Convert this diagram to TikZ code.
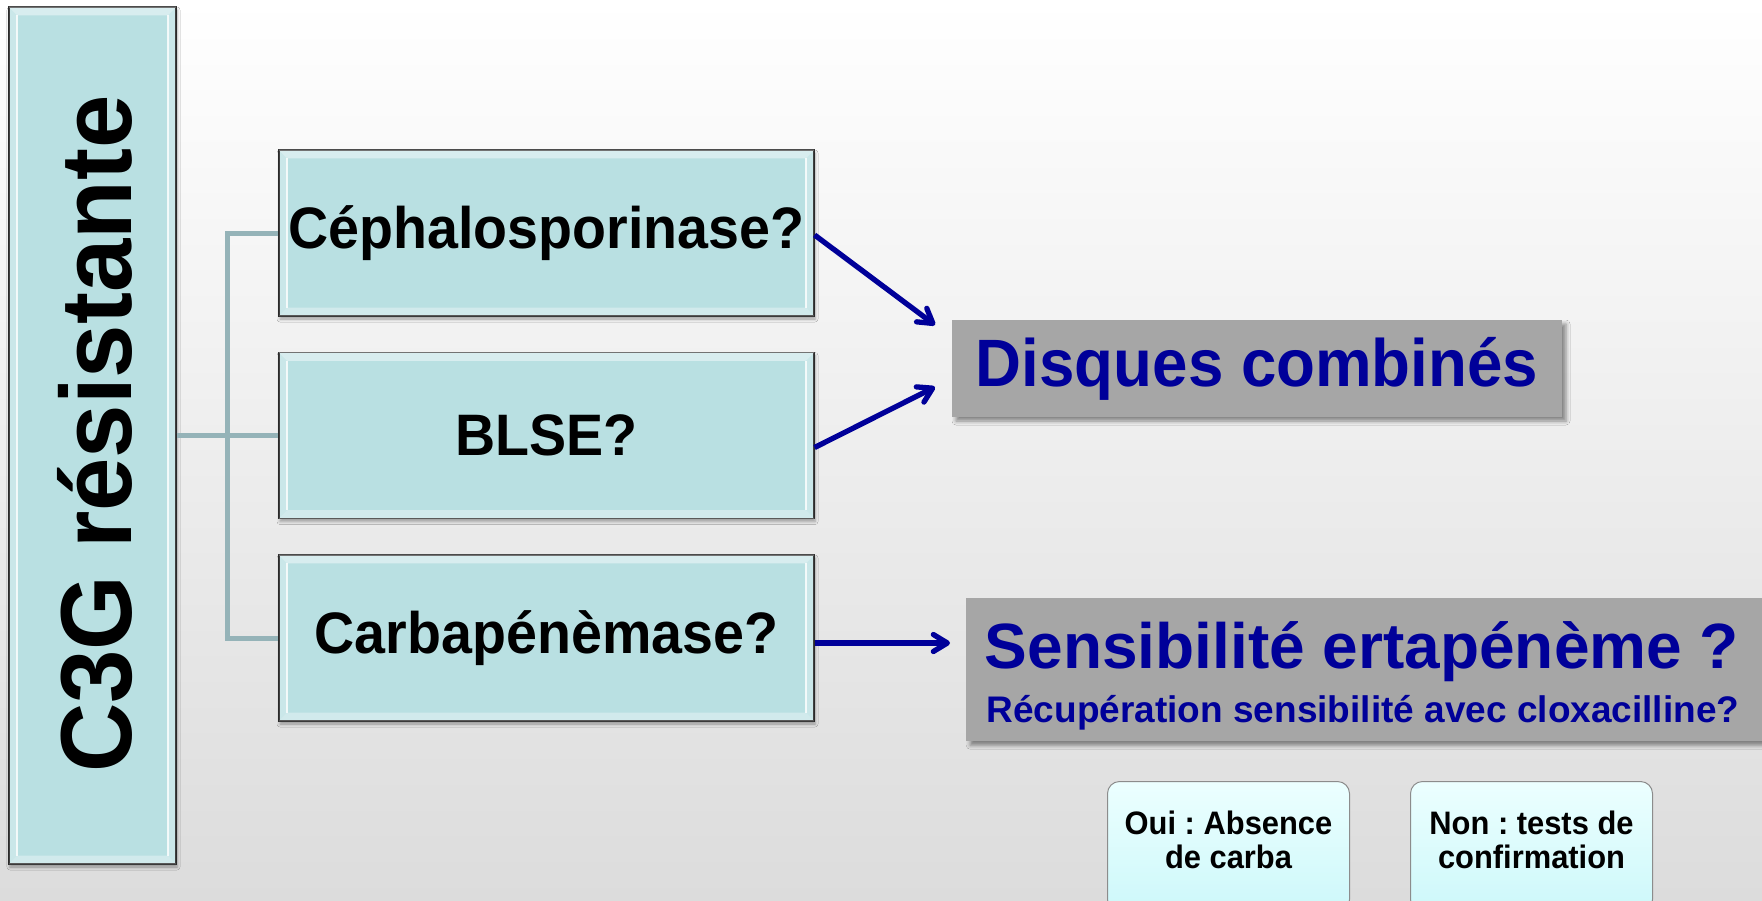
\documentclass[tikz,border=0pt]{standalone}
\usepackage{fontspec}
\setmainfont{Liberation Sans}
\newfontfamily\condf[FakeStretch=0.95]{Liberation Sans}
\usetikzlibrary{arrows.meta,shadows.blur}
\frenchspacing
\definecolor{teal1}{RGB}{185,224,226}
\definecolor{conn}{RGB}{149,179,184}
\definecolor{navy1}{RGB}{0,0,153}
\definecolor{gbox}{RGB}{166,166,166}
\definecolor{bgbot}{RGB}{220,220,220}
\definecolor{cyt}{RGB}{236,255,255}
\definecolor{cyb}{RGB}{205,248,250}
\newcommand{\bevelbox}[1]{%
  \fill[white,opacity=.45] (#1.north west) -- (#1.north east) -- ([xshift=-9pt,yshift=-9pt]#1.north east) -- ([xshift=9pt,yshift=-9pt]#1.north west) -- cycle;
  \fill[white,opacity=.35] (#1.south west) -- (#1.south east) -- ([xshift=-9pt,yshift=9pt]#1.south east) -- ([xshift=9pt,yshift=9pt]#1.south west) -- cycle;
  \fill[white,opacity=.25] (#1.north west) -- (#1.south west) -- ([xshift=9pt,yshift=9pt]#1.south west) -- ([xshift=9pt,yshift=-9pt]#1.north west) -- cycle;
  \fill[white,opacity=.25] (#1.north east) -- (#1.south east) -- ([xshift=-9pt,yshift=9pt]#1.south east) -- ([xshift=-9pt,yshift=-9pt]#1.north east) -- cycle;
  \draw[white,opacity=.8,line width=2pt] ([xshift=9pt,yshift=-9pt]#1.north west) -- ([xshift=9pt,yshift=9pt]#1.south west);
  \draw[white,opacity=.8,line width=2pt] ([xshift=-9pt,yshift=-9pt]#1.north east) -- ([xshift=-9pt,yshift=9pt]#1.south east);
}
\begin{document}
\frenchspacing
\begin{tikzpicture}[x=1pt,y=-1pt,
  tealbox/.style={draw=black, line width=1.2pt, fill=teal1, inner sep=0pt,
    minimum width=535pt, minimum height=166pt,
    blur shadow={shadow xshift=1pt, shadow yshift=-3pt, shadow blur radius=3pt, shadow opacity=35},
    font=\condf\bfseries\fontsize{58.5}{60}\selectfont},
  graybox/.style={fill=gbox, inner sep=0pt,
    blur shadow={shadow xshift=4pt, shadow yshift=-4pt, shadow blur radius=4pt, shadow opacity=45}},
  smallbox/.style={draw={rgb,255:red,140;green,140;blue,140}, line width=1pt, rounded corners=12pt,
    top color=cyt, bottom color=cyb, minimum width=242pt, minimum height=130pt, inner sep=0pt},
  conline/.style={draw=conn, line width=5pt},
  arr/.style={draw=navy1, line width=5.3pt, -{Straight Barb[length=14pt,width=17pt,round]}},
  smalltxt/.style={align=center, font=\condf\bfseries\fontsize{32.5}{34}\selectfont},
]
\useasboundingbox (0,0) rectangle (1762,900);
\shade[top color=white, bottom color=bgbot] (0,0) rectangle (1762,900);

% boxes
\node[tealbox, minimum width=167pt, minimum height=857pt] (c3g) at (92.5,435.5) {};
\node[tealbox] (b1) at (546.5,233) {C\'ephalosporinase?};
\node[tealbox] (b2) at (546.5,435.5) {BLSE?};
\node[tealbox] (b3) at (546.5,638) {Carbap\'en\`emase?};
\bevelbox{c3g}
\bevelbox{b1}
\bevelbox{b2}
\bevelbox{b3}
\node[rotate=90, font=\condf\bfseries\fontsize{101}{104}\selectfont] (c3gt) at (95,434) {C3G r\'esistante};

% tree connectors
\coordinate (jx) at (227,435.5);
\draw[conline] (c3g.east) -- (b2.west);
\draw[conline] (b1.west) -- (b1.west -| jx) -- (b3.west -| jx) -- (b3.west);

% result boxes
\node[graybox, minimum width=610pt, minimum height=97pt, text=navy1,
  font=\condf\bfseries\fontsize{67}{70}\selectfont] (disq) at (1257,368.5) {Disques combin\'es};
\node[graybox, minimum width=820pt, minimum height=143pt, anchor=north west] (sens) at (966,598) {};
\node[anchor=base, text=navy1, font=\bfseries\fontsize{64}{66}\selectfont] (s1) at (1362,668) {Sensibilit\'e ertap\'en\`eme ?};
\node[anchor=base, text=navy1, font=\bfseries\fontsize{37}{38}\selectfont] (s2) at (1363,722) {R\'ecup\'eration sensibilit\'e avec cloxacilline?};

% arrows
\coordinate (d1) at (935,325);
\coordinate (d2) at (935,387);
\coordinate (d3) at (950,643);
\draw[arr] ([yshift=-2pt]b1.east) -- (d1);
\draw[arr] ([yshift=-12pt]b2.east) -- (d2);
\draw[arr] ([yshift=-5pt]b3.east) -- (d3);

% small boxes
\node[smallbox, anchor=north west] (oui) at (1107,781) {};
\node[smallbox, anchor=north west] (non) at (1410,781) {};
\node[smalltxt] (ouit) at (oui.north |- 0,840) {Oui : Absence\\de carba};
\node[smalltxt] (nont) at (non.north |- 0,840) {Non : tests de\\confirmation};
\end{tikzpicture}
\end{document}
